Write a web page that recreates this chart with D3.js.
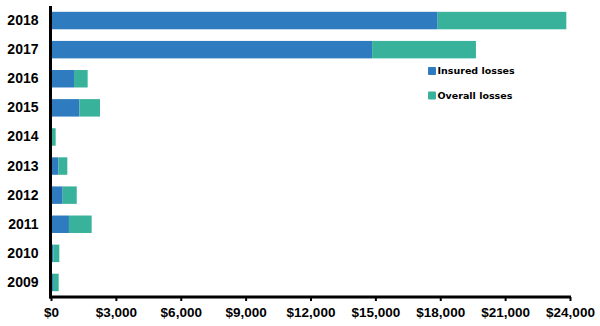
<!DOCTYPE html>
<html>
<head>
<meta charset="utf-8">
<script src="https://cdn.jsdelivr.net/npm/d3@7"></script>
<style>
  html, body { margin: 0; padding: 0; background: #fff; }
  svg { display: block; }
</style>
</head>
<body>
<svg id="chart" width="600" height="326"></svg>
<script>
// Years shown top to bottom
const years = ["2018", "2017", "2016", "2015", "2014", "2013", "2012", "2011", "2010", "2009"];
// Stacked segments (US$ millions)
const insuredLosses = [17880, 14850, 1065, 1310, 20, 340, 540, 830, 105, 90];
const overallLosses = [5950, 4800, 630, 955, 195, 415, 650, 1050, 280, 265];
const xTicks = [0, 3000, 6000, 9000, 12000, 15000, 18000, 21000, 24000];
const seriesNames = ["Insured losses", "Overall losses"];
const colors = ["#2f7bbf", "#38b29a"];

const svg = d3.select("#chart");
const plotLeft = 51, plotRight = 570, plotTop = 6, plotBottom = 297;

const x = d3.scaleLinear().domain([0, 24000]).range([plotLeft, plotRight]);
const y = d3.scaleBand().domain(years).range([plotTop, plotBottom])
  .paddingInner(0.4).paddingOuter(0.2);

const rows = years.map((yr, i) => ({ year: yr, insured: insuredLosses[i], overall: overallLosses[i] }));
const stack = d3.stack().keys(["insured", "overall"])(rows);

svg.append("g").selectAll("g")
  .data(stack)
  .join("g")
  .attr("fill", (d, i) => colors[i])
  .selectAll("rect")
  .data(d => d)
  .join("rect")
  .attr("x", d => x(d[0]))
  .attr("y", d => y(d.data.year))
  .attr("width", d => Math.max(0, x(d[1]) - x(d[0])))
  .attr("height", y.bandwidth());

// X axis
const xAxis = svg.append("g")
  .attr("transform", `translate(0,${plotBottom})`)
  .call(d3.axisBottom(x).tickValues(xTicks).tickSize(4).tickPadding(6)
    .tickFormat(d => "$" + d3.format(",")(d)));
xAxis.select(".domain").attr("stroke", "#000").attr("stroke-width", 3)
  .attr("d", `M${plotLeft - 1.5},0H${plotRight + 1}`);
xAxis.selectAll(".tick line").attr("stroke", "#000").attr("stroke-width", 2);
xAxis.selectAll(".tick text")
  .attr("fill", "#000")
  .style("font-family", "'Liberation Sans', Arial, sans-serif")
  .style("font-weight", "bold")
  .style("font-size", "13.5px");

// Y axis
const yAxis = svg.append("g")
  .attr("transform", `translate(${plotLeft - 0.5},0)`)
  .call(d3.axisLeft(y).tickSize(0).tickPadding(12));
yAxis.select(".domain").attr("stroke", "#000").attr("stroke-width", 3)
  .attr("d", `M0,${plotTop}V${plotBottom + 1.5}`);
yAxis.selectAll(".tick text")
  .attr("fill", "#000")
  .style("font-family", "'Liberation Sans', Arial, sans-serif")
  .style("font-weight", "bold")
  .style("font-size", "14px");

// Legend
const legend = svg.append("g").attr("transform", "translate(428,67)");
const item = legend.selectAll("g")
  .data(seriesNames)
  .join("g")
  .attr("transform", (d, i) => `translate(0,${i * 24.5})`);
item.append("rect")
  .attr("width", 8).attr("height", 8).attr("rx", 1)
  .attr("fill", (d, i) => colors[i]);
item.append("text")
  .attr("x", 9.5).attr("y", 4)
  .attr("dy", "0.35em")
  .attr("fill", "#000")
  .style("font-family", "'DejaVu Sans', Verdana, sans-serif")
  .style("font-weight", "bold")
  .style("font-size", "9.5px")
  .text(d => d);
</script>
</body>
</html>
